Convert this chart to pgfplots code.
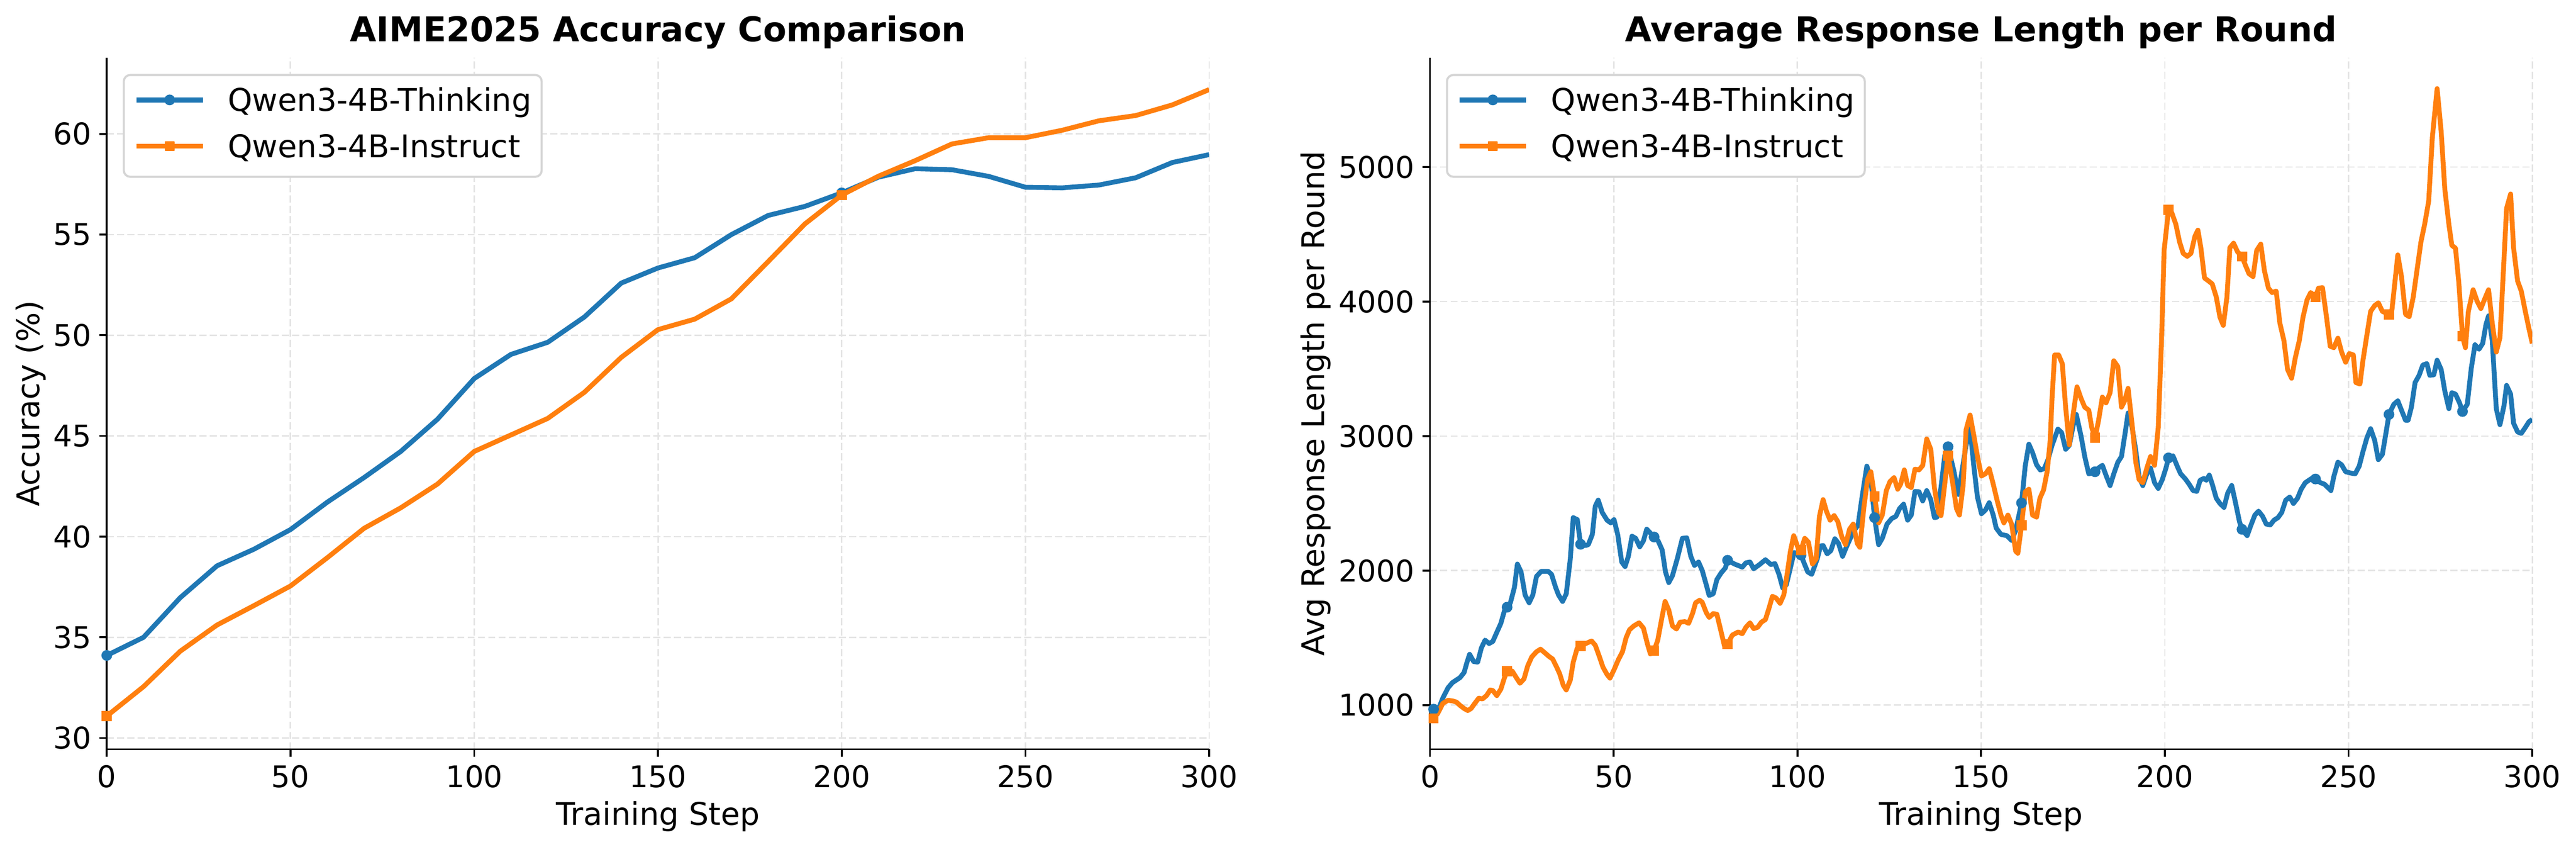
\documentclass[border=0pt]{standalone}
\usepackage{fontspec}
\setmainfont{DejaVu Sans}
\usepackage{pgfplots}
\pgfplotsset{compat=1.18}

\definecolor{tblue}{HTML}{1F77B4}
\definecolor{torange}{HTML}{FF7F0E}
\definecolor{gridgray}{HTML}{E4E4E4}
\definecolor{legframe}{HTML}{D5D5D5}

\pgfplotsset{
  panel/.style={
    scale only axis,
    width=524pt, height=328.6pt,
    xmin=0, xmax=300,
    xtick={0,50,...,300},
    axis lines=left,
    axis line style={-, line width=0.9pt},
    tick align=outside,
    major tick length=3.6pt,
    tick style={line width=0.9pt, black},
    grid=major,
    major grid style={line width=0.7pt, gridgray, dash pattern=on 3.4pt off 1.5pt},
    tick label style={font=\fontsize{14.2}{17}\selectfont},
    /pgf/number format/assume math mode=true,
    /pgf/number format/1000 sep={},
    scaled y ticks=false,
    xticklabel style={anchor=north, inner sep=0pt, yshift=-3.8pt},
    yticklabel style={anchor=east, inner sep=0pt, xshift=-3.5pt},
    every axis x label/.style={at={(axis description cs:0.5,0)}, anchor=base,
      yshift=-35.9pt, font=\fontsize{14.8}{17}\selectfont},
    every axis title/.style={at={(axis description cs:0.5,1)}, anchor=base,
      yshift=7.6pt, font=\bfseries\fontsize{16.2}{19}\selectfont},
    legend style={at={(0,1)}, anchor=north west, xshift=7.6pt, yshift=-7.8pt,
      draw=legframe, line width=1pt, rounded corners=3pt, fill=white,
      inner xsep=4.8pt, inner ysep=6.4pt, row sep=8.47pt,
      font=\fontsize{14.85}{17}\selectfont,
      nodes={inner sep=0pt, text height=10.83pt, text depth=2.7pt, anchor=base west}},
    legend cell align=left,
    legend image code/.code={
      \path[draw=none, fill=none] (0pt,-2.7pt) rectangle (43.46pt,10.83pt);
      \draw[#1, sharp corners, mark repeat=2, mark phase=2]
        plot coordinates {(0pt,5.4pt) (15.85pt,5.4pt) (31.7pt,5.4pt)};
    },
  },
  bline/.style={tblue, line width=2.3pt, line join=round, mark=none},
  oline/.style={torange, line width=2.3pt, line join=round, mark=none},
  bmark/.style={tblue, only marks, mark=*, mark size=2.25pt,
    mark options={line width=0.6pt, fill=tblue, draw=tblue}},
  omark/.style={torange, only marks, mark=square*, mark size=2.1pt,
    mark options={line width=0.6pt, fill=torange, draw=torange}},
}

\begin{document}
\begin{tikzpicture}
\useasboundingbox (0,0) rectangle (1224.48pt,402.24pt);

% ---------- left: accuracy ----------
\begin{axis}[panel, at={(50.76pt,46.3pt)}, anchor=south west,
  ymin=29.44, ymax=63.79, ytick={30,35,...,60},
  title={AIME2025 Accuracy Comparison},
  xlabel={Training Step}, ylabel={Accuracy (\%)},
  every axis y label/.style={at={(axis description cs:-0.0611,0.5)}, rotate=90,
    anchor=base, font=\fontsize{14.8}{17}\selectfont},
]
\addlegendimage{bline, mark=*, mark size=2.25pt, mark options={line width=0.6pt, fill=tblue}}
\addlegendentry{Qwen3-4B-Thinking}
\addlegendimage{oline, mark=square*, mark size=2.1pt, mark options={line width=0.6pt, fill=torange}}
\addlegendentry{Qwen3-4B-Instruct}

\addplot[bline, forget plot] coordinates {
(0,34.1) (10,35.0) (20,36.97) (30,38.55) (40,39.37) (50,40.35) (60,41.71)
(70,42.93) (80,44.23) (90,45.83) (100,47.85) (110,49.05) (120,49.65) (130,50.91)
(140,52.59) (150,53.34) (160,53.85) (170,55.0) (180,55.95) (190,56.4) (200,57.07)
(210,57.85) (220,58.27) (230,58.22) (240,57.89) (250,57.35) (260,57.32) (270,57.46)
(280,57.82) (290,58.58) (300,58.97)};
\addplot[bmark, forget plot] coordinates {(0,34.1) (200,57.07)};

\addplot[oline, forget plot] coordinates {
(0,31.09) (10,32.55) (20,34.31) (30,35.61) (40,36.57) (50,37.55) (60,38.95)
(70,40.41) (80,41.43) (90,42.61) (100,44.23) (110,45.05) (120,45.87) (130,47.17)
(140,48.9) (150,50.28) (160,50.8) (170,51.81) (180,53.66) (190,55.53) (200,56.96)
(210,57.9) (220,58.67) (230,59.5) (240,59.81) (250,59.81) (260,60.18) (270,60.65)
(280,60.91) (290,61.44) (300,62.2)};
\addplot[omark, forget plot] coordinates {(0,31.09) (200,56.96)};
\end{axis}

% ---------- right: response length ----------
\begin{axis}[panel, at={(679.7pt,46.3pt)}, anchor=south west,
  ymin=672, ymax=5814, ytick={1000,2000,...,5000},
  title={Average Response Length per Round},
  xlabel={Training Step}, ylabel={Avg Response Length per Round},
  every axis y label/.style={at={(axis description cs:-0.0958,0.5)}, rotate=90,
    anchor=base, font=\fontsize{14.8}{17}\selectfont},
]
\addlegendimage{bline, mark=*, mark size=2.25pt, mark options={line width=0.6pt, fill=tblue}}
\addlegendentry{Qwen3-4B-Thinking}
\addlegendimage{oline, mark=square*, mark size=2.1pt, mark options={line width=0.6pt, fill=torange}}
\addlegendentry{Qwen3-4B-Instruct}

\addplot[bline, forget plot] coordinates {
(1,970) (2.1,956) (3.5,1052) (4.9,1128) (6.1,1167) (8.2,1205) (9.3,1243) (10.1,1320)
(10.8,1378) (11.9,1324) (13,1320) (14,1425) (15,1483) (16.1,1458) (17.1,1473)
(18.2,1541) (19.3,1608) (20.3,1704) (21,1728) (21.9,1761) (23,1876) (23.8,2049)
(24.8,1991) (25.9,1819) (27,1761) (28,1819) (29,1957) (30.3,1995) (32.2,1995)
(33.1,1972) (34.2,1876) (35,1819) (36.1,1771) (37.1,1828) (38.2,2087) (39,2394)
(40.1,2379) (41,2196) (42.4,2187) (43.1,2193) (44.2,2269) (45,2480) (45.8,2524)
(46.9,2432) (48.2,2375) (49.2,2355) (50.1,2379) (51.1,2269) (52.2,2064) (53.1,2030)
(54,2106) (55,2256) (56,2240) (57.1,2177) (58.1,2221) (59,2308) (60,2279) (61,2250)
(62.1,2221) (63.2,2154) (64.1,1991) (65,1911) (66,1962) (67.3,2087) (68.7,2240)
(69.9,2244) (71,2106) (72,2039) (73.1,2064) (74.1,2001) (75.2,1895) (76,1815)
(77.1,1828) (78.1,1934) (79.2,1981) (80.4,2020) (81,2077) (82.9,2049) (85,2026)
(86,2058) (87.1,2064) (88.1,2014) (89.7,2045) (91.3,2081) (92.8,2045) (93.9,2052)
(95,1972) (96,1872) (97,1895) (98.1,2020) (99.1,2135) (101,2116) (101.8,2058)
(102.8,1991) (103.9,1972) (105.4,2087) (106.3,2183) (107,2187) (108.1,2125)
(109.1,2148) (110.2,2237) (111.2,2202) (112.3,2106) (113.3,2173) (114.4,2240)
(115.4,2298) (116.5,2336) (117.5,2528) (118.9,2777) (120,2681) (121,2394)
(122.1,2193) (123.1,2240) (124.4,2346) (125.7,2388) (126.8,2403) (127.8,2461)
(128.9,2494) (130,2375) (131,2413) (132,2589) (133.1,2586) (134.1,2518) (135.2,2595)
(136.3,2528) (137.3,2394) (138,2398) (139.1,2624) (140.1,2854) (141,2921)
(142.6,2739) (143.8,2566) (144.9,2758) (145.9,2931) (147,3055) (148,2780)
(149,2547) (150.1,2423) (151.2,2451) (152.2,2505) (153.3,2413) (154.1,2317)
(155.4,2269) (157,2260) (158.3,2225) (159.4,2298) (161,2503) (162,2777) (163,2940)
(164,2877) (165.1,2787) (166.1,2748) (167.2,2758) (168.2,2825) (169.3,2931)
(170.9,3052) (171.9,3027) (173,2902) (174,2931) (175.1,3084) (175.9,3161)
(177.2,3000) (178.2,2848) (179.3,2719) (181,2735) (181.9,2762) (183,2783) (184,2708)
(185.1,2632) (186.1,2719) (187.2,2805) (188.2,2848) (189.3,3042) (190,3172)
(191.1,3064) (192.1,2891) (193,2697) (194,2632) (195.1,2719) (196.1,2762)
(197.2,2654) (198.2,2611) (199.3,2676) (200.3,2762) (201,2838) (202.2,2854)
(203.5,2768) (204.3,2720) (205.6,2681) (206.6,2643) (207.7,2595) (208.7,2589)
(209.6,2672) (210.6,2685) (211.3,2672) (212.1,2710) (212.9,2643) (214,2538)
(215,2499) (216.1,2470) (217.1,2576) (218.2,2633) (219.2,2509) (220.3,2365)
(221,2307) (222.4,2260) (223.4,2336) (224.5,2413) (225.5,2442) (226.6,2404)
(227.6,2346) (228.7,2340) (229.7,2375) (230.8,2394) (231.8,2432) (232.9,2524)
(234,2547) (235,2499) (236.1,2538) (237.1,2605) (238.2,2653) (239.2,2672)
(240.3,2691) (241,2681) (242.4,2653) (243.4,2643) (244.5,2614) (245.2,2595)
(246,2701) (247.1,2806) (248.1,2787) (249.2,2735) (250.8,2724) (251.8,2720)
(252.9,2777) (253.9,2883) (255,2988) (256,3055) (257.1,2969) (258.1,2825)
(259.2,2864) (260.2,3027) (261,3161) (262.3,3236) (263.4,3262) (264.4,3193)
(265.5,3118) (266.2,3118) (267.1,3215) (268.1,3398) (269.2,3452) (270.2,3528)
(271.3,3539) (272.1,3452) (273.2,3456) (274.1,3564) (275.2,3495) (276.2,3334)
(277.3,3204) (278.1,3323) (279.1,3312) (280.2,3247) (281,3183) (282.3,3236)
(283.4,3506) (284.4,3679) (285.5,3646) (286.5,3689) (287.4,3830) (288.1,3894)
(289.1,3711) (290.2,3204) (291.2,3085) (292.3,3226) (293,3377) (294.1,3312)
(294.9,3096) (296,3031) (297,3020) (298.1,3064) (299.1,3107) (300,3124)};
\addplot[bmark, forget plot] coordinates {
(1,970) (21,1728) (41,2196) (61,2250) (81,2077) (101,2116) (121,2394) (141,2921)
(161,2503) (181,2735) (201,2838) (221,2307) (241,2681) (261,3161) (281,3183)};

\addplot[oline, forget plot] coordinates {
(1,902) (2.1,937) (3.5,1013) (4.9,1036) (6.1,1032) (7.2,1023) (8.2,998) (9.3,975)
(10.3,960) (11.2,975) (12.2,1013) (13.3,1052) (14.3,1046) (15.4,1071) (16.4,1113)
(17.1,1109) (18.2,1071) (19.3,1119) (20.3,1205) (21,1253) (22.4,1253) (23.5,1205)
(24.5,1163) (25.6,1195) (26.6,1291) (27.7,1358) (29,1397) (30.1,1416) (31.1,1393)
(32.4,1362) (33.4,1343) (34.5,1282) (35.3,1234) (36.3,1147) (37.1,1113) (38.2,1186)
(39,1320) (40.1,1425) (41,1439) (42.4,1458) (44,1477) (45,1445) (46.1,1362)
(47.1,1282) (48.2,1228) (49,1201) (50.1,1263) (51.3,1339) (52.4,1397) (53.4,1502)
(54.3,1560) (55.5,1589) (56.9,1612) (58.1,1573) (59.2,1454) (60,1381) (61,1406)
(62,1483) (63.1,1646) (64,1771) (65,1707) (66,1589) (67.1,1566) (68.1,1617)
(69.4,1621) (70.4,1608) (71.5,1684) (72.3,1761) (73.4,1780) (74.1,1765) (75.2,1688)
(76,1652) (77.1,1681) (78.1,1675) (79.2,1550) (80.2,1435) (81,1454) (82.3,1521)
(83.9,1544) (85,1531) (86,1579) (87.1,1612) (88.1,1569) (89.2,1579) (90.2,1617)
(91.3,1636) (92.3,1723) (93.2,1809) (94.2,1796) (95.3,1757) (96.3,1819) (97.3,1991)
(98.1,2145) (99,2260) (100.2,2168) (101,2154) (102,2240) (103,2212) (104.1,2049)
(105.1,2087) (106,2403) (107,2528) (107.9,2442) (108.9,2375) (110,2409) (111,2365)
(112.1,2250) (113.1,2193) (114.2,2308) (115.2,2346) (116.3,2202) (117,2173)
(118.1,2471) (119.1,2678) (120,2735) (121,2551) (122.1,2355) (123.1,2413)
(124.2,2595) (125.2,2662) (126.3,2691) (127.3,2605) (128.1,2643) (129.1,2749)
(130,2633) (131,2618) (132,2754) (133.1,2749) (134.1,2781) (135.2,2979) (136.3,2902)
(137.3,2614) (138.4,2432) (139.1,2409) (140.1,2643) (141,2854) (142.2,2662)
(143.3,2461) (144.1,2413) (145.1,2633) (145.9,3046) (147,3157) (148,3007)
(149.1,2835) (150.1,2704) (151.2,2720) (152.2,2758) (153.3,2643) (154.3,2528)
(155.4,2413) (156.2,2355) (157.3,2413) (158.3,2346) (159.4,2145) (160,2129)
(161,2336) (162,2586) (163,2605) (164,2413) (165.1,2398) (166,2538) (167,2600)
(168,2740) (168.8,2969) (169.3,3280) (170,3603) (171.1,3603) (172.1,3538) (173,3215)
(174,2935) (175.1,3172) (176.1,3366) (177.2,3280) (178.2,3215) (179.3,3193)
(180.1,3064) (181,2988) (181.9,3107) (183,3290) (184,3247) (185.1,3323) (186.1,3560)
(187.2,3517) (188.2,3215) (189,3258) (190,3355) (191.1,3085) (192.1,2805) (193,2676)
(194,2654) (195.1,2762) (196.1,2848) (197.2,2783) (198.2,3064) (199.1,3711)
(199.8,4380) (201,4682) (201.9,4660) (203,4574) (204,4444) (205,4358) (206.1,4336)
(207.1,4358) (208.2,4487) (209,4531) (209.8,4401) (210.8,4175) (211.9,4153)
(212.9,4131) (214,4034) (215,3884) (215.9,3823) (216.9,4034) (217.7,4401)
(218.7,4434) (219.8,4369) (221,4336) (221.9,4272) (222.9,4207) (224,4186) (225,4380)
(226.1,4427) (227.1,4229) (228.2,4099) (229.2,4067) (230.3,4078) (231.3,3840)
(232.4,3711) (233.4,3495) (234.5,3430) (235.5,3582) (236.6,3711) (237.6,3884)
(238.7,4013) (239.7,4067) (241,4034) (241.8,4099) (242.9,4104) (244,3884) (245,3668)
(246,3657) (247.1,3728) (248.1,3625) (249.2,3549) (250.2,3614) (251.3,3603)
(252,3398) (253.1,3387) (253.9,3560) (255,3754) (256,3927) (257.1,3970) (258.1,3991)
(259.2,3927) (261,3905) (261.8,3937) (262.6,4142) (263.4,4347) (264.4,4186)
(265.5,3905) (266.5,3888) (267.6,4034) (268.6,4229) (269.7,4444) (270.7,4574)
(271.8,4746) (272.8,5221) (274.1,5583) (275.2,5264) (276.2,4833) (277.3,4574)
(278.1,4418) (279.1,4397) (280,4142) (281,3743) (281.8,3657) (282.6,3927)
(283.9,4088) (285,4002) (286,3948) (287.1,4023) (288.1,4088) (289.1,3840)
(290.2,3625) (291.2,3732) (292.3,4315) (293,4693) (294.1,4800) (294.9,4401)
(296,4153) (297,4078) (298.1,3927) (299.1,3797) (300,3689)};
\addplot[omark, forget plot] coordinates {
(1,902) (21,1253) (41,1439) (61,1406) (81,1454) (101,2154) (121,2551) (141,2854)
(161,2336) (181,2988) (201,4682) (221,4336) (241,4034) (261,3905) (281,3743)};
\end{axis}
\end{tikzpicture}
\end{document}
